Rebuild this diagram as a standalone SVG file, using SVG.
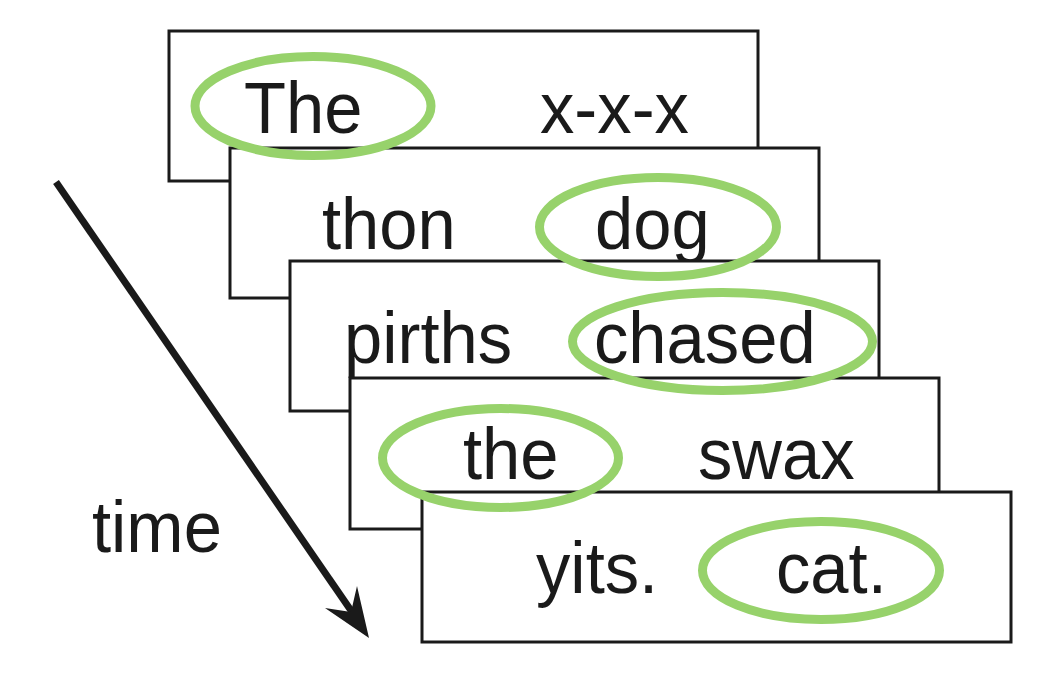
<svg xmlns="http://www.w3.org/2000/svg" width="1058" height="694" viewBox="0 0 1058 694">
<style>
.box{fill:#ffffff;stroke:#1a1a1a;stroke-width:3}
.t{font-family:"Liberation Sans",Arial,sans-serif;font-size:72px;fill:#1a1a1a}
.hl{fill:none;stroke:#97d26b;stroke-width:9}
.arr{stroke:#1a1a1a;stroke-width:7;fill:none}
</style>
<rect width="1058" height="694" fill="#ffffff"/>
<g id="connectors">
<line class="arr" x1="56" y1="182" x2="352" y2="612"/>
<path d="M369,638 L325,608 L351,612 L357,586 Z" fill="#1a1a1a"/>
</g>
<text class="t" transform="translate(92,552) scale(0.955,1)">time</text>
<g id="frame1">
<rect class="box" x="169" y="31" width="589" height="150"/>
<text class="t" transform="translate(244,133) scale(0.955,1)">The</text>
<text class="t" transform="translate(540,133) scale(0.955,1)">x-x-x</text>
</g>
<g id="frame2">
<rect class="box" x="230" y="148" width="589" height="150"/>
<text class="t" transform="translate(322,249) scale(0.955,1)">thon</text>
<text class="t" transform="translate(595,249) scale(0.955,1)">dog</text>
</g>
<g id="frame3">
<rect class="box" x="290" y="261" width="589" height="150"/>
<text class="t" transform="translate(344,363) scale(0.955,1)">pirths</text>
<text class="t" transform="translate(594,363) scale(0.955,1)">chased</text>
</g>
<g id="frame4">
<rect class="box" x="350" y="378" width="589" height="151"/>
<text class="t" transform="translate(463,479) scale(0.955,1)">the</text>
<text class="t" transform="translate(698,479) scale(0.955,1)">swax</text>
</g>
<g id="frame5">
<rect class="box" x="422" y="492" width="589" height="150"/>
<text class="t" transform="translate(536,593) scale(0.955,1)">yits.</text>
<text class="t" transform="translate(776,593) scale(0.955,1)">cat.</text>
</g>
<g id="highlight-The"><ellipse class="hl" cx="313" cy="106" rx="118" ry="49.5"/></g>
<g id="highlight-dog"><ellipse class="hl" cx="658" cy="227" rx="118.5" ry="49.5"/></g>
<g id="highlight-chased"><ellipse class="hl" cx="722.5" cy="341.5" rx="150" ry="49"/></g>
<g id="highlight-the"><ellipse class="hl" cx="500.5" cy="458" rx="118" ry="49.5"/></g>
<g id="highlight-cat"><ellipse class="hl" cx="821" cy="570.5" rx="118.5" ry="49"/></g>
</svg>
